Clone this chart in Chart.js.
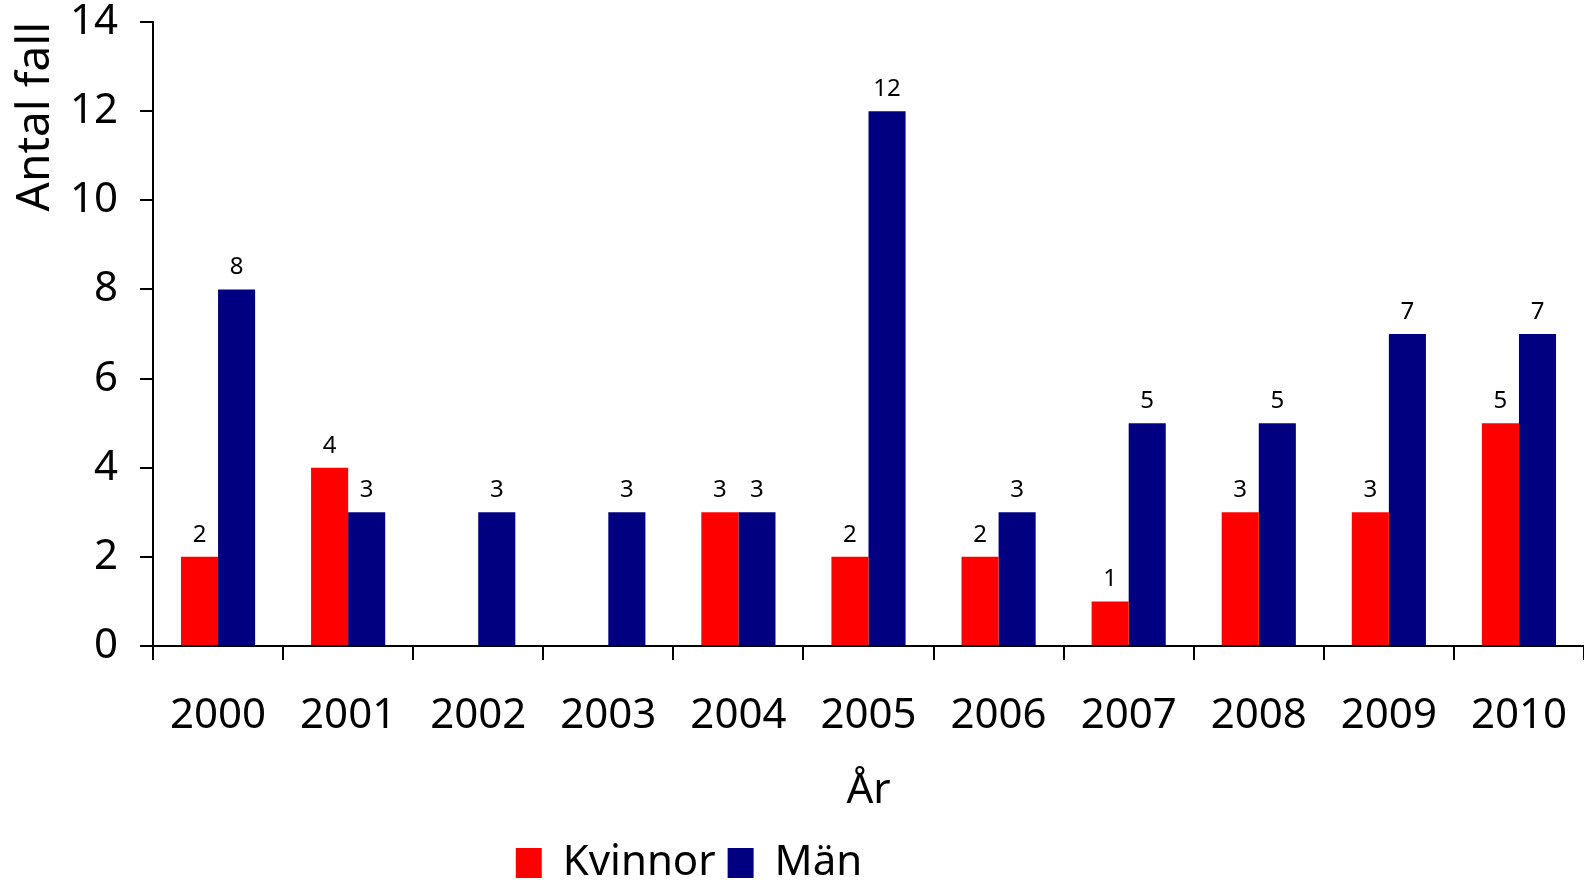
<!DOCTYPE html>
<html lang="sv">
<head>
<meta charset="UTF-8">
<title>Antal fall per år</title>
<script src="https://cdn.jsdelivr.net/npm/chart.js"></script>
<style>
  html, body { margin: 0; padding: 0; background: #fff; }
</style>
</head>
<body>
<canvas id="graf" width="1584" height="880"></canvas>
<script>
var ar = ['2000', '2001', '2002', '2003', '2004', '2005', '2006', '2007', '2008', '2009', '2010'];
var kvinnor = [2, 4, null, null, 3, 2, 2, 1, 3, 3, 5];
var man = [8, 3, 3, 3, 3, 12, 3, 5, 5, 7, 7];
var yMin = 0, yMax = 14, yStep = 2;

var typsnitt = "'Noto Sans', sans-serif";

// skriver värdet ovanför varje stapel
var vardeEtiketter = {
    id: 'vardeEtiketter',
    afterDatasetsDraw: function (chart) {
        var ctx = chart.ctx;
        ctx.save();
        ctx.font = '24px ' + typsnitt;
        ctx.fillStyle = '#000';
        ctx.textAlign = 'center';
        ctx.textBaseline = 'alphabetic';
        chart.data.datasets.forEach(function (ds, i) {
            var meta = chart.getDatasetMeta(i);
            meta.data.forEach(function (bar, j) {
                var v = ds.data[j];
                if (v === null || v === undefined) return;
                ctx.fillText(String(v), bar.x, bar.y - 15);
            });
        });
        ctx.restore();
    }
};

// förklaringen sitter till vänster om mitten i originalet
var flyttaForklaring = {
    id: 'flyttaForklaring',
    beforeDraw: function (chart) {
        var lg = chart.legend;
        if (!lg) return;
        lg.left = -103;
        lg.right = chart.width - 103;
    }
};

new Chart(document.getElementById('graf'), {
    type: 'bar',
    data: {
        labels: ar,
        datasets: [{
            label: 'Kvinnor',
            data: kvinnor,
            backgroundColor: '#ff0000',
            borderWidth: 0
        }, {
            label: 'Män',
            data: man,
            backgroundColor: '#000080',
            borderWidth: 0
        }]
    },
    options: {
        responsive: false,
        animation: false,
        events: [],
        categoryPercentage: 0.57,
        barPercentage: 1,
        layout: {
            padding: { left: 0, right: 0, top: 22, bottom: -14 }
        },
        plugins: {
            legend: {
                position: 'bottom',
                labels: {
                    font: { family: typsnitt, size: 42 },
                    color: '#000',
                    boxWidth: 26,
                    boxHeight: 30,
                    padding: 12
                }
            },
            tooltip: { enabled: false }
        },
        scales: {
            x: {
                grid: {
                    offset: true,
                    drawOnChartArea: false,
                    color: '#000',
                    lineWidth: 2,
                    tickLength: 14
                },
                border: { color: '#000', width: 2 },
                ticks: {
                    font: { family: typsnitt, size: 42 },
                    color: '#000',
                    padding: 31,
                    maxRotation: 0
                },
                title: {
                    display: true,
                    text: 'År',
                    font: { family: typsnitt, size: 42 },
                    color: '#000',
                    padding: { top: 0, bottom: 14 }
                },
                afterFit: function (s) {
                    s.height = 184;
                    s.paddingLeft = 0;
                    s.paddingRight = 0;
                }
            },
            y: {
                min: yMin,
                max: yMax,
                grid: {
                    drawOnChartArea: false,
                    color: '#000',
                    lineWidth: 2,
                    tickLength: 13
                },
                border: { color: '#000', width: 2 },
                ticks: {
                    stepSize: yStep,
                    font: { family: typsnitt, size: 42, lineHeight: 1 },
                    color: '#000',
                    padding: 22
                },
                title: {
                    display: true,
                    text: 'Antal fall',
                    align: 'end',
                    font: { family: typsnitt, size: 46 },
                    color: '#000',
                    padding: { top: 8, bottom: 0 }
                },
                afterFit: function (s) {
                    s.width = 153;
                    s.paddingTop = 0;
                    s.paddingBottom = 0;
                }
            }
        }
    },
    plugins: [vardeEtiketter, flyttaForklaring]
});
</script>
</body>
</html>
